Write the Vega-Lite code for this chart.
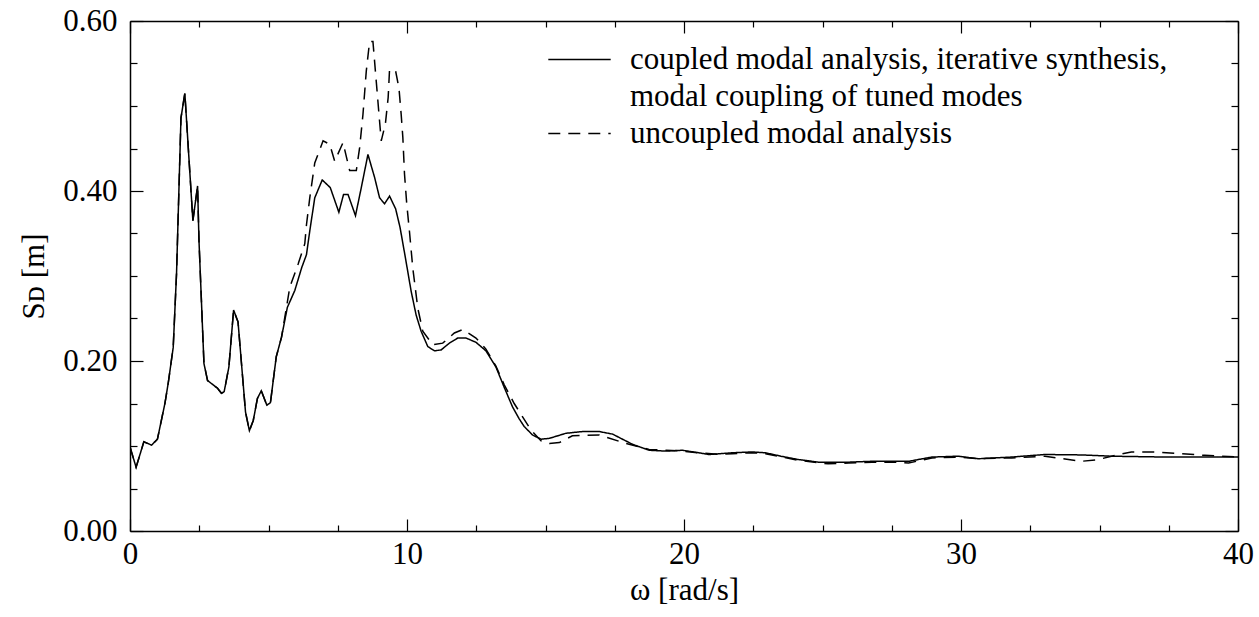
{
  "$schema": "https://vega.github.io/schema/vega-lite/v6.json",
  "width": 1108,
  "height": 510,
  "autosize": {"type": "none"},
  "padding": {"left": 130, "top": 21, "right": 21, "bottom": 86},
  "background": "white",
  "config": {
    "font": "Liberation Serif",
    "view": {"stroke": null},
    "style": {"guide-label": {"lineHeight": 37}},
    "axis": {
      "domainColor": "black", "domainWidth": 1.5, "tickColor": "black", "tickWidth": 1.2,
      "labelColor": "black", "titleColor": "black", "labelFontSize": 31, "titleFontSize": 31,
      "titleFontWeight": "normal", "grid": false, "labelFont": "Liberation Serif", "titleFont": "Liberation Serif",
      "labelFlush": false, "labelOverlap": false
    },
    "legend": {
      "labelFont": "Liberation Serif", "labelFontSize": 31, "labelColor": "black", "labelLimit": 0
    }
  },
  "data": {"values": [
    {"w":0,"sd":0.099,"s":"coupled"},{"w":0.22,"sd":0.075,"s":"coupled"},{"w":0.5,"sd":0.105,"s":"coupled"},{"w":0.78,"sd":0.101,"s":"coupled"},{"w":0.99,"sd":0.108,"s":"coupled"},{"w":1.26,"sd":0.15,"s":"coupled"},{"w":1.38,"sd":0.174,"s":"coupled"},{"w":1.56,"sd":0.216,"s":"coupled"},{"w":1.68,"sd":0.303,"s":"coupled"},{"w":1.84,"sd":0.486,"s":"coupled"},{"w":1.98,"sd":0.515,"s":"coupled"},{"w":2.27,"sd":0.365,"s":"coupled"},{"w":2.44,"sd":0.406,"s":"coupled"},{"w":2.49,"sd":0.342,"s":"coupled"},{"w":2.67,"sd":0.197,"s":"coupled"},{"w":2.8,"sd":0.177,"s":"coupled"},{"w":3.16,"sd":0.168,"s":"coupled"},{"w":3.3,"sd":0.162,"s":"coupled"},{"w":3.4,"sd":0.164,"s":"coupled"},{"w":3.57,"sd":0.193,"s":"coupled"},{"w":3.74,"sd":0.26,"s":"coupled"},{"w":3.9,"sd":0.246,"s":"coupled"},{"w":4.17,"sd":0.14,"s":"coupled"},{"w":4.31,"sd":0.118,"s":"coupled"},{"w":4.45,"sd":0.13,"s":"coupled"},{"w":4.6,"sd":0.156,"s":"coupled"},{"w":4.74,"sd":0.165,"s":"coupled"},{"w":4.94,"sd":0.148,"s":"coupled"},{"w":5.07,"sd":0.151,"s":"coupled"},{"w":5.28,"sd":0.205,"s":"coupled"},{"w":5.47,"sd":0.228,"s":"coupled"},{"w":5.68,"sd":0.263,"s":"coupled"},{"w":5.95,"sd":0.283,"s":"coupled"},{"w":6.2,"sd":0.31,"s":"coupled"},{"w":6.37,"sd":0.325,"s":"coupled"},{"w":6.49,"sd":0.353,"s":"coupled"},{"w":6.67,"sd":0.392,"s":"coupled"},{"w":6.94,"sd":0.413,"s":"coupled"},{"w":7.23,"sd":0.404,"s":"coupled"},{"w":7.54,"sd":0.375,"s":"coupled"},{"w":7.71,"sd":0.396,"s":"coupled"},{"w":7.87,"sd":0.396,"s":"coupled"},{"w":8.14,"sd":0.371,"s":"coupled"},{"w":8.35,"sd":0.404,"s":"coupled"},{"w":8.59,"sd":0.443,"s":"coupled"},{"w":8.83,"sd":0.416,"s":"coupled"},{"w":9.01,"sd":0.392,"s":"coupled"},{"w":9.19,"sd":0.385,"s":"coupled"},{"w":9.37,"sd":0.394,"s":"coupled"},{"w":9.59,"sd":0.379,"s":"coupled"},{"w":9.75,"sd":0.357,"s":"coupled"},{"w":9.95,"sd":0.32,"s":"coupled"},{"w":10.15,"sd":0.282,"s":"coupled"},{"w":10.33,"sd":0.254,"s":"coupled"},{"w":10.51,"sd":0.235,"s":"coupled"},{"w":10.75,"sd":0.217,"s":"coupled"},{"w":10.99,"sd":0.212,"s":"coupled"},{"w":11.23,"sd":0.213,"s":"coupled"},{"w":11.53,"sd":0.221,"s":"coupled"},{"w":11.83,"sd":0.227,"s":"coupled"},{"w":12.13,"sd":0.227,"s":"coupled"},{"w":12.49,"sd":0.222,"s":"coupled"},{"w":12.85,"sd":0.212,"s":"coupled"},{"w":13.21,"sd":0.193,"s":"coupled"},{"w":13.51,"sd":0.169,"s":"coupled"},{"w":13.81,"sd":0.146,"s":"coupled"},{"w":14.05,"sd":0.132,"s":"coupled"},{"w":14.23,"sd":0.123,"s":"coupled"},{"w":14.53,"sd":0.113,"s":"coupled"},{"w":14.84,"sd":0.108,"s":"coupled"},{"w":15.14,"sd":0.109,"s":"coupled"},{"w":15.74,"sd":0.115,"s":"coupled"},{"w":16.34,"sd":0.117,"s":"coupled"},{"w":16.94,"sd":0.117,"s":"coupled"},{"w":17.42,"sd":0.114,"s":"coupled"},{"w":18.14,"sd":0.102,"s":"coupled"},{"w":18.74,"sd":0.095,"s":"coupled"},{"w":19.34,"sd":0.094,"s":"coupled"},{"w":19.94,"sd":0.095,"s":"coupled"},{"w":20.54,"sd":0.092,"s":"coupled"},{"w":20.9,"sd":0.09,"s":"coupled"},{"w":21.74,"sd":0.092,"s":"coupled"},{"w":22.46,"sd":0.093,"s":"coupled"},{"w":22.94,"sd":0.092,"s":"coupled"},{"w":23.5,"sd":0.088,"s":"coupled"},{"w":24.14,"sd":0.084,"s":"coupled"},{"w":24.86,"sd":0.081,"s":"coupled"},{"w":25.95,"sd":0.081,"s":"coupled"},{"w":26.79,"sd":0.082,"s":"coupled"},{"w":27.75,"sd":0.082,"s":"coupled"},{"w":28.11,"sd":0.082,"s":"coupled"},{"w":28.95,"sd":0.087,"s":"coupled"},{"w":29.91,"sd":0.088,"s":"coupled"},{"w":30.63,"sd":0.085,"s":"coupled"},{"w":31.83,"sd":0.087,"s":"coupled"},{"w":33.03,"sd":0.09,"s":"coupled"},{"w":34.35,"sd":0.0895,"s":"coupled"},{"w":35.43,"sd":0.088,"s":"coupled"},{"w":37.36,"sd":0.087,"s":"coupled"},{"w":39.16,"sd":0.087,"s":"coupled"},{"w":40,"sd":0.087,"s":"coupled"},
    {"w":0,"sd":0.099,"s":"uncoupled"},{"w":0.22,"sd":0.075,"s":"uncoupled"},{"w":0.5,"sd":0.105,"s":"uncoupled"},{"w":0.78,"sd":0.101,"s":"uncoupled"},{"w":0.99,"sd":0.108,"s":"uncoupled"},{"w":1.26,"sd":0.15,"s":"uncoupled"},{"w":1.38,"sd":0.174,"s":"uncoupled"},{"w":1.56,"sd":0.216,"s":"uncoupled"},{"w":1.68,"sd":0.303,"s":"uncoupled"},{"w":1.84,"sd":0.486,"s":"uncoupled"},{"w":1.98,"sd":0.515,"s":"uncoupled"},{"w":2.27,"sd":0.365,"s":"uncoupled"},{"w":2.44,"sd":0.406,"s":"uncoupled"},{"w":2.49,"sd":0.342,"s":"uncoupled"},{"w":2.67,"sd":0.197,"s":"uncoupled"},{"w":2.8,"sd":0.177,"s":"uncoupled"},{"w":3.16,"sd":0.168,"s":"uncoupled"},{"w":3.3,"sd":0.162,"s":"uncoupled"},{"w":3.4,"sd":0.164,"s":"uncoupled"},{"w":3.57,"sd":0.193,"s":"uncoupled"},{"w":3.74,"sd":0.26,"s":"uncoupled"},{"w":3.9,"sd":0.246,"s":"uncoupled"},{"w":4.17,"sd":0.14,"s":"uncoupled"},{"w":4.31,"sd":0.118,"s":"uncoupled"},{"w":4.45,"sd":0.13,"s":"uncoupled"},{"w":4.6,"sd":0.156,"s":"uncoupled"},{"w":4.74,"sd":0.165,"s":"uncoupled"},{"w":4.94,"sd":0.148,"s":"uncoupled"},{"w":5.07,"sd":0.151,"s":"uncoupled"},{"w":5.28,"sd":0.205,"s":"uncoupled"},{"w":5.47,"sd":0.228,"s":"uncoupled"},{"w":5.77,"sd":0.287,"s":"uncoupled"},{"w":6.07,"sd":0.314,"s":"uncoupled"},{"w":6.31,"sd":0.338,"s":"uncoupled"},{"w":6.37,"sd":0.36,"s":"uncoupled"},{"w":6.49,"sd":0.392,"s":"uncoupled"},{"w":6.67,"sd":0.433,"s":"uncoupled"},{"w":6.97,"sd":0.459,"s":"uncoupled"},{"w":7.21,"sd":0.455,"s":"uncoupled"},{"w":7.39,"sd":0.435,"s":"uncoupled"},{"w":7.69,"sd":0.457,"s":"uncoupled"},{"w":7.93,"sd":0.424,"s":"uncoupled"},{"w":8.17,"sd":0.424,"s":"uncoupled"},{"w":8.29,"sd":0.451,"s":"uncoupled"},{"w":8.41,"sd":0.49,"s":"uncoupled"},{"w":8.53,"sd":0.541,"s":"uncoupled"},{"w":8.65,"sd":0.576,"s":"uncoupled"},{"w":8.77,"sd":0.576,"s":"uncoupled"},{"w":8.89,"sd":0.529,"s":"uncoupled"},{"w":9.01,"sd":0.482,"s":"uncoupled"},{"w":9.07,"sd":0.459,"s":"uncoupled"},{"w":9.22,"sd":0.479,"s":"uncoupled"},{"w":9.32,"sd":0.51,"s":"uncoupled"},{"w":9.37,"sd":0.543,"s":"uncoupled"},{"w":9.59,"sd":0.541,"s":"uncoupled"},{"w":9.71,"sd":0.521,"s":"uncoupled"},{"w":9.79,"sd":0.49,"s":"uncoupled"},{"w":9.85,"sd":0.463,"s":"uncoupled"},{"w":9.91,"sd":0.42,"s":"uncoupled"},{"w":9.99,"sd":0.385,"s":"uncoupled"},{"w":10.09,"sd":0.352,"s":"uncoupled"},{"w":10.21,"sd":0.309,"s":"uncoupled"},{"w":10.39,"sd":0.262,"s":"uncoupled"},{"w":10.57,"sd":0.235,"s":"uncoupled"},{"w":10.93,"sd":0.219,"s":"uncoupled"},{"w":11.29,"sd":0.221,"s":"uncoupled"},{"w":11.71,"sd":0.233,"s":"uncoupled"},{"w":12.01,"sd":0.237,"s":"uncoupled"},{"w":12.49,"sd":0.227,"s":"uncoupled"},{"w":12.85,"sd":0.214,"s":"uncoupled"},{"w":13.21,"sd":0.194,"s":"uncoupled"},{"w":13.51,"sd":0.172,"s":"uncoupled"},{"w":13.87,"sd":0.15,"s":"uncoupled"},{"w":14.47,"sd":0.119,"s":"uncoupled"},{"w":14.84,"sd":0.106,"s":"uncoupled"},{"w":15.14,"sd":0.103,"s":"uncoupled"},{"w":15.5,"sd":0.104,"s":"uncoupled"},{"w":15.97,"sd":0.112,"s":"uncoupled"},{"w":16.94,"sd":0.113,"s":"uncoupled"},{"w":17.9,"sd":0.103,"s":"uncoupled"},{"w":18.74,"sd":0.096,"s":"uncoupled"},{"w":19.34,"sd":0.095,"s":"uncoupled"},{"w":19.94,"sd":0.094,"s":"uncoupled"},{"w":20.54,"sd":0.092,"s":"uncoupled"},{"w":21.26,"sd":0.09,"s":"uncoupled"},{"w":21.74,"sd":0.091,"s":"uncoupled"},{"w":22.46,"sd":0.092,"s":"uncoupled"},{"w":22.94,"sd":0.091,"s":"uncoupled"},{"w":24.14,"sd":0.083,"s":"uncoupled"},{"w":25.2,"sd":0.079,"s":"uncoupled"},{"w":25.95,"sd":0.08,"s":"uncoupled"},{"w":26.79,"sd":0.081,"s":"uncoupled"},{"w":27.75,"sd":0.081,"s":"uncoupled"},{"w":28.11,"sd":0.08,"s":"uncoupled"},{"w":28.95,"sd":0.086,"s":"uncoupled"},{"w":29.91,"sd":0.087,"s":"uncoupled"},{"w":30.63,"sd":0.085,"s":"uncoupled"},{"w":31.83,"sd":0.086,"s":"uncoupled"},{"w":33.03,"sd":0.088,"s":"uncoupled"},{"w":34.35,"sd":0.082,"s":"uncoupled"},{"w":34.95,"sd":0.084,"s":"uncoupled"},{"w":35.43,"sd":0.088,"s":"uncoupled"},{"w":36.15,"sd":0.093,"s":"uncoupled"},{"w":36.99,"sd":0.093,"s":"uncoupled"},{"w":37.95,"sd":0.091,"s":"uncoupled"},{"w":38.8,"sd":0.089,"s":"uncoupled"},{"w":40,"sd":0.087,"s":"uncoupled"}
  ]},
  "layer": [
    {
      "mark": {"type": "line", "color": "black", "strokeWidth": 1.5, "clip": true},
      "encoding": {
        "x": {"field": "w", "type": "quantitative", "scale": {"domain": [0, 40], "nice": false, "zero": false},
          "axis": {"orient": "bottom", "title": "ω [rad/s]",
            "values": [0,2.5,5,7.5,10,12.5,15,17.5,20,22.5,25,27.5,30,32.5,35,37.5,40],
            "labelExpr": "datum.value % 10 == 0 ? format(datum.value, 'd') : ''",
            "tickSize": {"condition": {"test": "datum.value % 10 == 0", "value": -12}, "value": -6},
            "labelPadding": 20, "titlePadding": 0}},
        "y": {"field": "sd", "type": "quantitative", "scale": {"domain": [0, 0.6], "nice": false, "zero": false},
          "axis": {"orient": "left", "title": "Sᴅ [m]",
            "values": [0,0.05,0.1,0.15,0.2,0.25,0.3,0.35,0.4,0.45,0.5,0.55,0.6],
            "labelExpr": "round(datum.value*100) % 20 == 0 ? format(datum.value, '.2f') : ''",
            "tickSize": {"condition": {"test": "round(datum.value*100) % 20 == 0", "value": -13}, "value": -7},
            "labelPadding": 26, "titlePadding": 12}},
        "strokeDash": {"field": "s", "type": "nominal",
          "scale": {"domain": ["coupled", "uncoupled"], "range": [[1, 0], [12, 8]]},
          "legend": {"title": null, "orient": "none", "legendX": 434, "legendY": 23,
            "symbolType": "M-3.9,0H3.9", "symbolSize": 256, "symbolStrokeWidth": 1.5, "symbolStrokeColor": "black",
            "labelOffset": 35, "labelBaseline": "middle", "rowPadding": 5,
            "labelExpr": "datum.value == 'coupled' ? ['coupled modal analysis, iterative synthesis,', 'modal coupling of tuned modes'] : 'uncoupled modal analysis'"}}
      }
    },
    {
      "mark": {"type": "line", "opacity": 0},
      "encoding": {
        "x": {"field": "w", "type": "quantitative",
          "axis": {"orient": "top", "title": null, "labels": false,
            "values": [0,2.5,5,7.5,10,12.5,15,17.5,20,22.5,25,27.5,30,32.5,35,37.5,40],
            "tickSize": {"condition": {"test": "datum.value % 10 == 0", "value": -12}, "value": -6}}},
        "y": {"field": "sd", "type": "quantitative",
          "axis": {"orient": "right", "title": null, "labels": false,
            "values": [0,0.05,0.1,0.15,0.2,0.25,0.3,0.35,0.4,0.45,0.5,0.55,0.6],
            "tickSize": {"condition": {"test": "round(datum.value*100) % 20 == 0", "value": -13}, "value": -7}}}
      }
    }
  ],
  "resolve": {"axis": {"x": "independent", "y": "independent"}}
}
